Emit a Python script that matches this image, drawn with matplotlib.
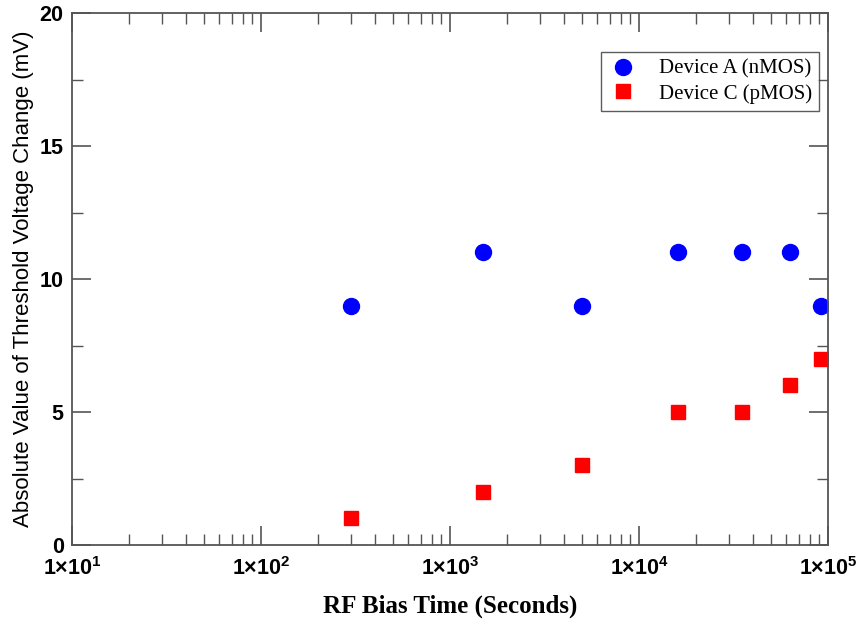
import numpy as np
import matplotlib.pyplot as plt
from matplotlib.ticker import FuncFormatter, LogLocator, MultipleLocator

plt.rcParams['mathtext.fontset'] = 'custom'
plt.rcParams['mathtext.rm'] = 'Liberation Sans:bold'
plt.rcParams['mathtext.it'] = 'Liberation Sans:bold'
plt.rcParams['mathtext.bf'] = 'Liberation Sans:bold'

# datos
t_a = [300, 1500, 5000, 16000, 35000, 63000, 92000]
dv_a = [9, 11, 9, 11, 11, 11, 9]
t_c = [300, 1500, 5000, 16000, 35000, 63000, 92000]
dv_c = [1, 2, 3, 5, 5, 6, 7]

fig = plt.figure(figsize=(8.6, 6.24), dpi=100)
ax = fig.add_axes([0.0837, 0.1266, 0.8791, 0.8524])

ax.plot(t_a, dv_a, 'o', color='#0000ff', markersize=11.5, label='Device A (nMOS)')
ax.plot(t_c, dv_c, 's', color='#ff0000', markersize=10, label='Device C (pMOS)')

ax.set_xscale('log')
ax.set_xlim(10, 1e5)
ax.set_ylim(0, 20)
ax.yaxis.set_major_locator(MultipleLocator(5))
ax.yaxis.set_minor_locator(MultipleLocator(2.5))
ax.xaxis.set_major_locator(LogLocator(base=10))
ax.xaxis.set_minor_locator(LogLocator(base=10, subs=np.arange(2, 10)))
ax.xaxis.set_minor_formatter(FuncFormatter(lambda v, p: ''))
ax.xaxis.set_major_formatter(FuncFormatter(lambda v, p: r'1×10$^{%d}$' % round(np.log10(v))))

ax.tick_params(which='both', direction='in', top=True, right=True, color='#555555')
ax.tick_params(which='major', length=14, width=1.2)
ax.tick_params(which='minor', length=8, width=1.0)
ax.tick_params(axis='x', which='major', pad=9)
ax.tick_params(axis='y', which='major', pad=6)
for lab in ax.get_xticklabels() + ax.get_yticklabels():
    lab.set_family('Liberation Sans')
    lab.set_weight('bold')
    lab.set_fontsize(15.5)
for s in ax.spines.values():
    s.set_color('#555555')
    s.set_linewidth(1.3)

ax.set_xlabel('RF Bias Time (Seconds)', family='Liberation Serif', weight='bold', fontsize=18, labelpad=10)
ax.set_ylabel('Absolute Value of Threshold Voltage Change (mV)', family='Liberation Sans', fontsize=16, labelpad=4)

leg = ax.legend(loc='upper right', bbox_to_anchor=(0.988, 0.927), prop={'family': 'Liberation Serif', 'size': 15},
                frameon=True, fancybox=False, edgecolor='#333333', borderpad=0.35, handlelength=1.4,
                handletextpad=1.0, labelspacing=0.25, borderaxespad=0)
leg.get_frame().set_linewidth(1.0)

plt.savefig('out.png', dpi=100)
